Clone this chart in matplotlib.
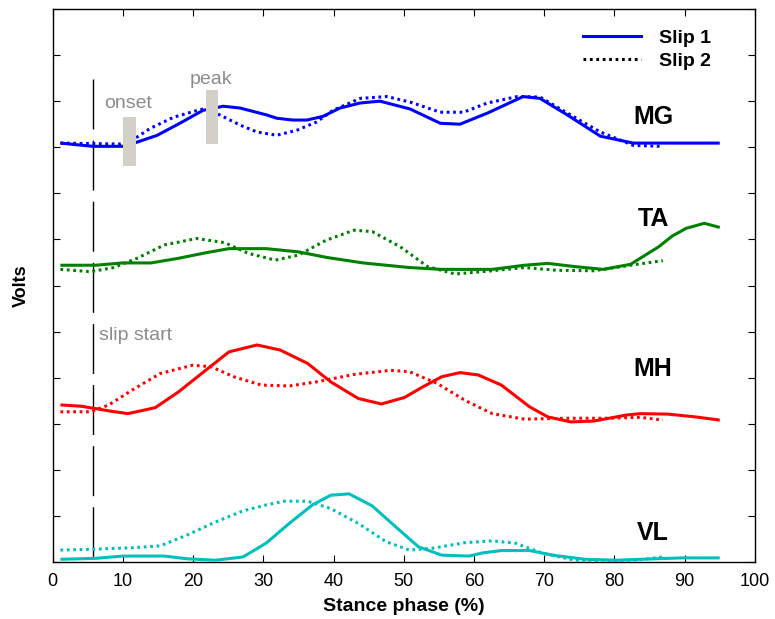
import matplotlib
matplotlib.use("Agg")
import matplotlib.pyplot as plt
from matplotlib.lines import Line2D
from matplotlib.patches import Rectangle

plt.rcParams['font.family'] = ['Liberation Sans', 'DejaVu Sans']

# MG (blue)
mg_x1 = [1.1, 5.7, 10.0, 12.0, 14.9, 18.1, 21.4, 24.3, 26.7, 30.5, 31.9, 34.2, 36.2, 38.5, 40.9,
         43.8, 46.6, 50.9, 55.2, 58.0, 61.9, 67.0, 69.4, 73.3, 78.0, 82.7, 95.0]
mg_y1 = [9.09, 9.02, 9.02, 9.11, 9.26, 9.52, 9.80, 9.89, 9.85, 9.70, 9.63, 9.59, 9.59, 9.67, 9.85,
         9.96, 10.00, 9.83, 9.52, 9.50, 9.74, 10.10, 10.06, 9.70, 9.24, 9.09, 9.09]
mg_x2 = [1.1, 9.6, 12.0, 13.9, 17.2, 20.6, 22.0, 23.8, 26.7, 29.1, 31.9, 34.8, 37.6, 39.9, 43.8,
         47.6, 50.9, 55.2, 58.5, 61.9, 66.2, 69.4, 73.3, 78.0, 82.7, 86.8]
mg_y2 = [9.09, 9.07, 9.22, 9.41, 9.65, 9.80, 9.85, 9.70, 9.48, 9.33, 9.26, 9.37, 9.55, 9.80, 10.06,
         10.10, 9.98, 9.76, 9.76, 9.96, 10.10, 10.09, 9.74, 9.33, 9.04, 9.02]

# TA (green)
ta_x1 = [1.1, 6.1, 10.0, 14.0, 17.9, 21.8, 25.1, 30.4, 35.0, 39.0, 44.2, 50.8, 55.4, 62.6, 67.2,
         70.5, 74.4, 78.4, 82.3, 86.3, 88.2, 90.2, 92.8, 95.0]
ta_y1 = [6.44, 6.44, 6.49, 6.49, 6.59, 6.71, 6.80, 6.80, 6.73, 6.61, 6.49, 6.39, 6.35, 6.35, 6.44,
         6.48, 6.41, 6.35, 6.46, 6.84, 7.07, 7.24, 7.35, 7.26]
ta_x2 = [1.1, 5.4, 8.7, 12.0, 15.9, 20.5, 24.5, 27.8, 31.7, 35.0, 38.9, 42.9, 45.5, 49.5, 53.4,
         57.3, 62.6, 67.2, 71.8, 77.1, 82.3, 86.9]
ta_y2 = [6.35, 6.30, 6.39, 6.59, 6.88, 7.02, 6.93, 6.70, 6.55, 6.66, 6.98, 7.20, 7.17, 6.84, 6.41,
         6.25, 6.32, 6.39, 6.33, 6.32, 6.44, 6.54]

# MH (red)
mh_x1 = [1.1, 4.1, 6.1, 8.0, 10.7, 14.6, 17.9, 21.2, 25.1, 29.1, 32.4, 36.3, 39.6, 43.5, 46.8,
         50.1, 52.7, 55.4, 58.0, 60.6, 63.9, 67.9, 70.5, 73.8, 77.1, 81.7, 83.7, 87.6, 91.5, 95.0]
mh_y1 = [3.41, 3.38, 3.33, 3.28, 3.22, 3.35, 3.69, 4.09, 4.56, 4.71, 4.60, 4.31, 3.91, 3.55, 3.43,
         3.57, 3.80, 4.02, 4.11, 4.06, 3.84, 3.37, 3.15, 3.04, 3.06, 3.19, 3.22, 3.21, 3.15, 3.08]
mh_x2 = [1.1, 5.4, 8.0, 11.3, 15.3, 19.9, 22.5, 25.8, 29.7, 33.7, 37.6, 42.9, 48.1, 50.8, 54.7,
         58.7, 62.6, 67.2, 73.1, 79.0, 83.7, 86.9]
mh_y2 = [3.26, 3.26, 3.41, 3.73, 4.09, 4.27, 4.24, 4.02, 3.84, 3.82, 3.91, 4.07, 4.16, 4.13, 3.88,
         3.51, 3.22, 3.10, 3.12, 3.12, 3.14, 3.08]

# VL (cyan)
vl_x1 = [1.1, 6.1, 10.0, 15.9, 19.2, 23.2, 27.1, 30.4, 33.7, 37.0, 39.6, 42.2, 45.5, 48.8, 52.1,
         55.4, 59.3, 61.3, 63.9, 67.9, 71.2, 75.8, 80.4, 83.7, 89.6, 95.0]
vl_y1 = [0.06, 0.08, 0.13, 0.13, 0.07, 0.04, 0.11, 0.41, 0.84, 1.24, 1.45, 1.48, 1.22, 0.77, 0.33,
         0.15, 0.13, 0.20, 0.25, 0.25, 0.15, 0.06, 0.04, 0.06, 0.09, 0.09]
vl_x2 = [1.1, 6.1, 11.3, 15.3, 19.2, 23.2, 27.1, 30.4, 33.0, 36.3, 39.6, 43.5, 47.5, 50.8, 54.1,
         58.7, 62.6, 65.9, 69.8, 74.4, 79.0, 83.0, 86.9]
vl_y2 = [0.26, 0.28, 0.31, 0.35, 0.59, 0.87, 1.11, 1.24, 1.32, 1.32, 1.16, 0.84, 0.44, 0.26, 0.30,
         0.42, 0.46, 0.41, 0.19, 0.04, 0.01, 0.04, 0.11]

muscles = ['MG', 'TA', 'MH', 'VL']
colors = ['#0000ff', '#008000', '#ff0000', '#00bfbf']
label_y = [9.65, 7.45, 4.19, 0.62]

slip_start = 5.75
onset_box = (10.06, 8.59, 1.77, 1.06)
peak_box = (21.8, 9.07, 1.8, 1.17)

fig = plt.figure(figsize=(7.75, 6.19), dpi=100)
ax = fig.add_axes([0.068, 0.092, 0.906, 0.8935])

series = [(mg_x1, mg_y1, mg_x2, mg_y2), (ta_x1, ta_y1, ta_x2, ta_y2),
          (mh_x1, mh_y1, mh_x2, mh_y2), (vl_x1, vl_y1, vl_x2, vl_y2)]
for (x1, y1, x2, y2), c in zip(series, colors):
    ax.plot(x1, y1, color=c, lw=2.2, solid_capstyle='butt', zorder=3)
    ax.plot(x2, y2, color=c, lw=2.2, linestyle=(0, (0.9, 1.2)), dash_capstyle='butt', zorder=3)

for name, ly in zip(muscles, label_y):
    ax.text(85.5, ly, name, fontsize=18, fontweight='bold', ha='center', va='center')

# slip start marker, drawn top-down so the dash pattern starts at the top
ax.plot([slip_start, slip_start], [10.48, 0], color='black', lw=1.0,
        linestyle=(0, (36, 8)), zorder=2)
ax.text(6.6, 4.92, 'slip start', fontsize=14, color='#8c8c8c', ha='left', va='center')

for b in (onset_box, peak_box):
    ax.add_patch(Rectangle((b[0], b[1]), b[2], b[3], facecolor='#d3cfc9', edgecolor='none', zorder=4))
ax.text(10.7, 9.95, 'onset', fontsize=14, color='#8c8c8c', ha='center', va='center')
ax.text(22.6, 10.48, 'peak', fontsize=14, color='#8c8c8c', ha='center', va='center')

ax.set_xlim(0, 100)
ax.set_ylim(0, 12)
ax.set_xticks(range(0, 101, 10))
ax.set_yticks(range(0, 13))
ax.set_yticklabels([])
ax.tick_params(direction='in', top=True, right=True, length=5, width=0.8, labelsize=13, pad=8)
for s in ax.spines.values():
    s.set_linewidth(1.0)

ax.set_xlabel('Stance phase (%)', fontsize=14, fontweight='bold', labelpad=6)
ax.set_ylabel('Volts', fontsize=13, fontweight='bold')
ax.yaxis.set_label_coords(-0.032, 0.5)

handles = [Line2D([], [], color='#0000ff', lw=2.2),
           Line2D([], [], color='black', lw=2.2, linestyle=(0, (0.9, 1.2)))]
ax.legend(handles, ['Slip 1', 'Slip 2'], loc='upper right', frameon=False,
          prop={'weight': 'bold', 'size': 14}, handlelength=3.0, labelspacing=0.3,
          handletextpad=0.9, bbox_to_anchor=(0.962, 0.995))

fig.savefig('out.png', dpi=100)
